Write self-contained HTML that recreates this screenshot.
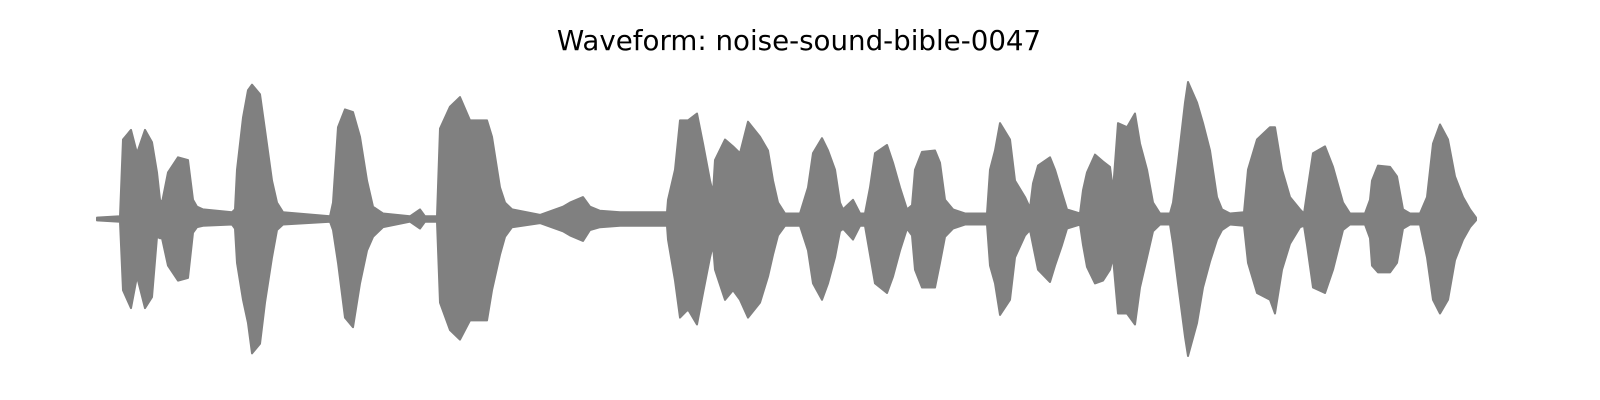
<!DOCTYPE html>
<html>
<head>
<meta charset="utf-8">
<style>
  html,body{margin:0;padding:0;background:#fff;}
  body{width:1600px;height:400px;overflow:hidden;}
  svg{display:block;}
</style>
</head>
<body>
<svg id="chart" width="1600" height="400" viewBox="0 0 1600 400" xmlns="http://www.w3.org/2000/svg">
  <rect x="0" y="0" width="1600" height="400" fill="#ffffff"/>
  <text x="799" y="50" text-anchor="middle" font-family="DejaVu Sans, Liberation Sans, sans-serif" font-size="27.7" fill="#000">Waveform: noise-sound-bible-0047</text>
  <g id="plot"></g>
</svg>
<script>
// frame index (time axis)
const frames = [0,23,26,34,40,48,55,60,63,65,
71,81,91,96,100,106,135,138,140,146,
151,155,163,168,175,180,186,233,236,241,
248,256,263,270,276,286,313,323,328,340,
343,353,363,373,390,395,403,408,415,443,
466,473,486,493,503,523,558,570,571,578,
583,591,600,606,613,616,618,628,636,643,
651,663,671,676,681,688,703,711,716,725,
731,738,743,746,756,763,768,773,778,790,
796,803,810,815,818,825,838,843,848,856,
868,890,893,898,903,913,918,928,933,936,
941,953,958,965,970,983,986,990,998,1006,
1013,1016,1021,1030,1038,1043,1050,1056,1063,1073,
1076,1081,1088,1091,1100,1106,1113,1120,1125,1133,
1147,1151,1160,1173,1178,1185,1193,1203,1207,1210,
1216,1228,1236,1246,1253,1268,1273,1275,1281,1293,
1300,1306,1313,1323,1330,1336,1343,1351,1358,1366,
1373,1379];
// upper envelope amplitude (% of full scale)
const upper = [1,2,58,65,48,65,56,34,14,12,
34,45,43,14,9,7,5,7,36,74,
94,98,91,65,28,12,5,2,12,67,
80,78,60,28,9,4,2,7,2,2,
66,82,89,72,72,60,23,12,7,3,
9,12,16,9,6,5,5,5,14,36,
72,72,77,55,28,19,43,58,53,48,
71,60,50,28,12,4,4,23,48,59,
50,36,12,7,14,4,4,23,48,54,
41,23,7,10,36,49,50,41,14,7,
4,4,36,50,70,58,28,16,8,26,
39,45,36,19,7,4,21,34,47,42,
38,21,70,67,77,55,36,12,4,4,
12,41,85,100,85,70,50,16,7,4,
5,36,58,67,67,36,16,7,4,19,
48,53,38,12,4,4,14,28,39,38,
31,7,4,4,16,55,69,58,31,16,
7,1];
// lower envelope amplitude magnitude (% of full scale)
const lower = [1,2,52,65,42,65,57,13,14,14,
34,45,43,10,6,5,4,7,32,59,
76,98,91,61,28,8,4,2,8,32,
72,79,47,23,13,6,2,7,2,2,
61,81,88,74,74,52,26,13,6,3,
9,12,16,8,6,5,5,5,15,45,
72,66,77,54,28,19,37,59,52,59,
72,61,42,26,12,5,5,23,47,59,
47,28,9,7,15,5,5,26,47,54,
42,23,7,12,37,50,50,32,13,7,
4,4,34,47,70,59,28,12,8,19,
37,46,34,19,7,4,19,35,47,45,
37,28,69,69,77,50,28,9,4,4,
18,47,86,100,76,50,31,15,8,4,
5,32,54,59,69,37,18,6,5,19,
50,54,37,8,4,4,14,34,39,39,
32,7,4,4,28,59,69,59,30,15,
6,1];

const X0 = 97, XS = 1.0;        // frame -> px
const Y0 = 219, YS = 1.37;      // amplitude % -> px
function xScale(f){ return X0 + f * XS; }
function yScale(a){ return Y0 - a * YS; }

const plot = document.getElementById('plot');
const NS = 'http://www.w3.org/2000/svg';
const n = Math.min(frames.length, upper.length, lower.length);
let pts = [];
for (let i = 0; i < n; i++) pts.push(xScale(frames[i]).toFixed(1) + ',' + yScale(upper[i]).toFixed(1));
for (let i = n - 1; i >= 0; i--) pts.push(xScale(frames[i]).toFixed(1) + ',' + yScale(-lower[i]).toFixed(1));
const poly = document.createElementNS(NS, 'polygon');
poly.setAttribute('points', pts.join(' '));
poly.setAttribute('fill', '#808080');
poly.setAttribute('stroke', '#808080');
poly.setAttribute('stroke-width', '2');
poly.setAttribute('stroke-linejoin', 'round');


plot.appendChild(poly);
</script>
</body>
</html>
